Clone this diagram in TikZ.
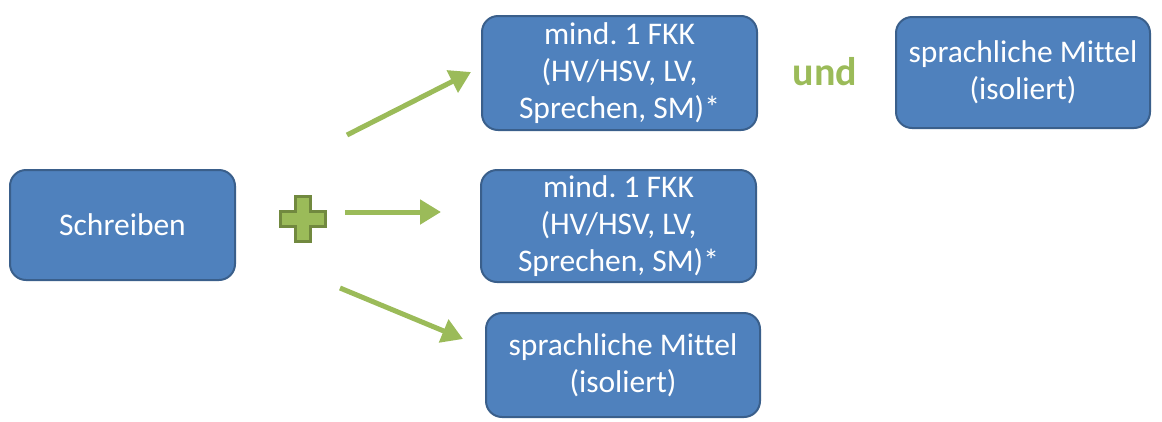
\documentclass[tikz,border=0pt]{standalone}
\usepackage{fontspec}
\setmainfont{Carlito}[Ligatures=NoCommon]
\frenchspacing
\usetikzlibrary{arrows.meta}
\definecolor{boxfill}{HTML}{4F81BD}
\definecolor{boxline}{HTML}{3A5F8B}
\definecolor{grn}{HTML}{9BBB59}
\definecolor{grndark}{HTML}{71893F}
\tikzset{
	kasten/.style={draw=boxline, line width=2pt, fill=boxfill, rounded corners=16pt,
		inner sep=0pt, text=white, align=center, font=\fontsize{31.5}{37}\selectfont},
	pfeil/.style={draw=grn, line width=5pt, -{Triangle[length=21pt,width=24pt]}}
}
\begin{document}
\begin{tikzpicture}[x=1pt, y=-1pt]
			\useasboundingbox (0,0) rectangle (1162,421);
			\node[kasten, minimum width=225pt, minimum height=110pt] (schreiben) at (122.5,225) {Schreiben};
			\node[kasten, minimum width=275pt, minimum height=114pt] (fkka) at (619.5,73) {mind. 1 FKK\\(HV/HSV, LV,\\Sprechen, SM)*};
			\node[kasten, minimum width=254pt, minimum height=111pt] (smb) at (1023,72.5) {sprachliche Mittel\\(isoliert)};
			\node[kasten, minimum width=275pt, minimum height=112pt] (fkkb) at (618.5,226) {mind. 1 FKK\\(HV/HSV, LV,\\Sprechen, SM)*};
			\node[kasten, minimum width=274pt, minimum height=104pt] (sma) at (623,365) {sprachliche Mittel\\(isoliert)};
			\node[text=grn, font=\fontsize{40}{46}\selectfont\bfseries] (und) at (825,72) {und};

			% Plus
			\draw[fill=grn, draw=grndark, line width=3pt]
				(295,196) -- (310,196) -- (310,211) -- (325,211) -- (325,226) -- (310,226)
				-- (310,241) -- (295,241) -- (295,226) -- (280,226) -- (280,211) -- (295,211) -- cycle;

			\coordinate (p1) at (347,135);
			\coordinate (q1) at (471,72);
			\coordinate (p2) at (345,212);
			\coordinate (q2) at (441,212);
			\coordinate (p3) at (340,288);
			\coordinate (q3) at (463,339);
			\draw[pfeil] (p1)--(q1);
			\draw[pfeil] (p2)--(q2);
			\draw[pfeil] (p3)--(q3);
\end{tikzpicture}
\end{document}
